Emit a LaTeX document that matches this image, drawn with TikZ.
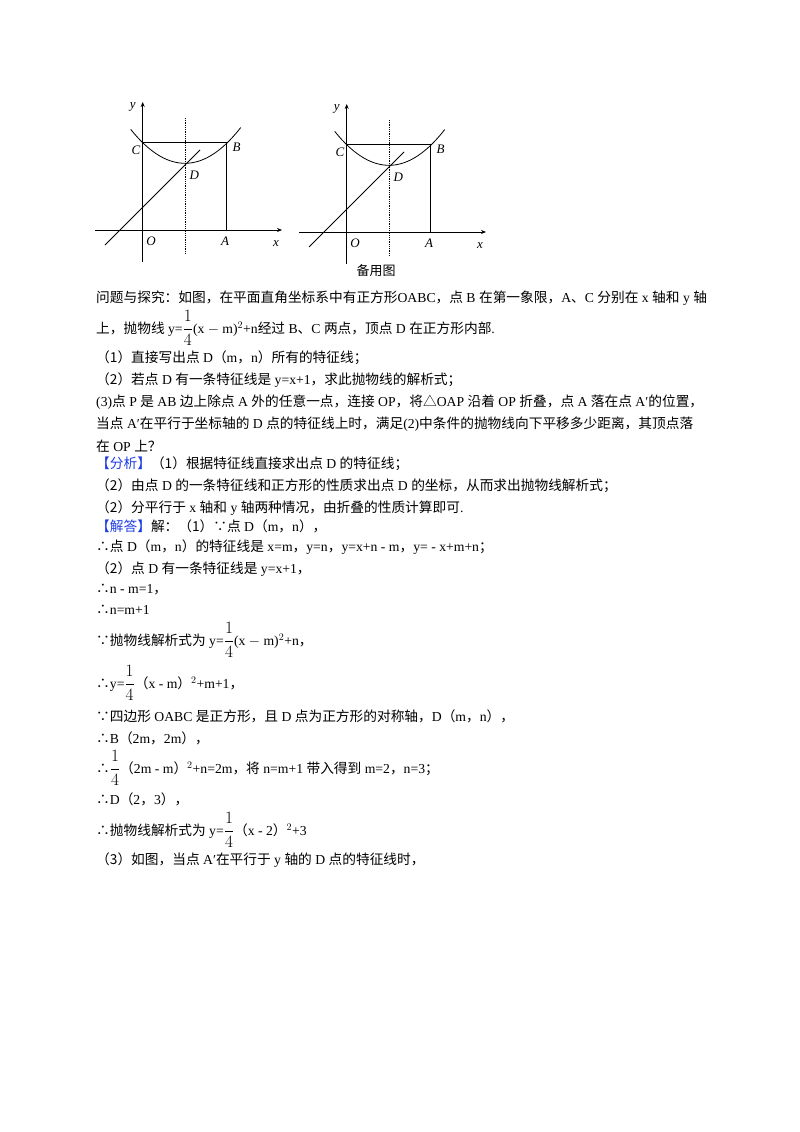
\documentclass[tikz,border=0pt]{standalone}
\usepackage{fontspec}
\usetikzlibrary{arrows.meta}
\setmainfont{Liberation Serif}
\newfontfamily\cjk{Noto Sans CJK SC}
\newcommand\Z[1]{{\cjk #1}}
\newcommand\fr{{\fontsize{17}{17}\selectfont$\displaystyle\frac{1}{4}$}}
\definecolor{ansblue}{RGB}{30,60,230}
\begin{document}
\begin{tikzpicture}[x=1pt,y=-1pt,
  ax/.style={line width=0.8pt,-{Stealth[length=5pt,width=4pt]}},
  ln/.style={line width=0.8pt},
  dl/.style={line width=0.8pt,densely dotted},
  lb/.style={font=\itshape\fontsize{13}{13}\selectfont,inner sep=0},
  tx/.style={anchor=west,inner sep=0,font=\fontsize{13.7}{16}\selectfont}]
\useasboundingbox (0,0) rectangle (800,1132);
\foreach \dx/\dy/\s in {0/0/a,204/2/b}{
\begin{scope}[shift={(\dx,\dy)}]
 \coordinate (O\s) at (142.7,230);
 \coordinate (A\s) at (226.7,230);
 \coordinate (B\s) at (226.7,142.7);
 \coordinate (C\s) at (142.7,142.7);
 \coordinate (D\s) at (185,163.3);
 \draw[ax] (95,230) -- (282,230);
 \draw[ax] (142.7,262) -- (142.7,102);
 \draw[ln] (C\s) -- (B\s) -- (A\s);
 \draw[dl] (185,118) -- (185,254);
 \draw[ln,domain=130.7:240.7,samples=50] plot (\x,{163.3-0.01152*(\x-185)*(\x-185)});
 \draw[ln] (105,245) -- (200,150);
 \node[lb] at (132.7,106.7) {y};
 \node[lb] at (136,150) {C};
 \node[lb] at (236.7,147.3) {B};
 \node[lb] at (194.3,175.7) {D};
 \node[lb] at (151,241.7) {O};
 \node[lb] at (225,241.7) {A};
 \node[lb] at (276,244) {x};
\end{scope}}
\node[inner sep=0,font=\cjk\fontsize{13}{13}\selectfont] (cap) at (376,271) {备用图};
\node[tx] (l1) at (96,298) {\Z{问题与探究：如图，在平面直角坐标系中有正方形}OABC\Z{，点} B \Z{在第一象限，}A\Z{、}C \Z{分别在} x \Z{轴和} y \Z{轴}};
\node[tx] (l2) at (96,328) {\Z{上，抛物线} y=\fr(x $-$ m)$^2$+n\Z{经过} B\Z{、}C \Z{两点，顶点} D \Z{在正方形内部}.};
\node[tx] (l3) at (96,358) {\Z{（1）直接写出点} D\Z{（}m\Z{，}n\Z{）所有的特征线；}};
\node[tx] (l4) at (96,380) {\Z{（2）若点} D \Z{有一条特征线是} y=x+1\Z{，求此抛物线的解析式；}};
\node[tx] (l5) at (96,402) {(3)\Z{点} P \Z{是} AB \Z{边上除点} A \Z{外的任意一点，连接} OP\Z{，将}\Z{△}OAP \Z{沿着} OP \Z{折叠，点} A \Z{落在点} A′\Z{的位置，}};
\node[tx] (l6) at (96,424) {\Z{当点} A′\Z{在平行于坐标轴的} D \Z{点的特征线上时，满足}(2)\Z{中条件的抛物线向下平移多少距离，其顶点落}};
\node[tx] (l7) at (96,446) {\Z{在} OP \Z{上？}};
\node[tx] (l8) at (96,464) {\textcolor{ansblue}{\Z{【分析】}}\Z{（1）根据特征线直接求出点} D \Z{的特征线；}};
\node[tx] (l9) at (96,486) {\Z{（2）由点} D \Z{的一条特征线和正方形的性质求出点} D \Z{的坐标，从而求出抛物线解析式；}};
\node[tx] (l10) at (96,508) {\Z{（2）分平行于} x \Z{轴和} y \Z{轴两种情况，由折叠的性质计算即可}.};
\node[tx] (l11) at (96,526) {\textcolor{ansblue}{\Z{【解答】}}\Z{解：（1）∵点} D\Z{（}m\Z{，}n\Z{），}};
\node[tx] (l12) at (96,547) {\Z{∴点} D\Z{（}m\Z{，}n\Z{）的特征线是} x=m\Z{，}y=n\Z{，}y=x+n - m\Z{，}y= - x+m+n\Z{；}};
\node[tx] (l13) at (96,569) {\Z{（2）点} D \Z{有一条特征线是} y=x+1\Z{，}};
\node[tx] (l14) at (96,590) {\Z{∴}n - m=1\Z{，}};
\node[tx] (l15) at (96,610) {\Z{∴}n=m+1};
\node[tx] (l16) at (96,640) {\Z{∵抛物线解析式为} y=\fr(x $-$ m)$^2$+n\Z{，}};
\node[tx] (l17) at (96,683) {\Z{∴}y=\fr\Z{（}x - m\Z{）}$^2$+m+1\Z{，}};
\node[tx] (l18) at (96,716) {\Z{∵四边形} OABC \Z{是正方形，且} D \Z{点为正方形的对称轴，}D\Z{（}m\Z{，}n\Z{），}};
\node[tx] (l19) at (96,738) {\Z{∴}B\Z{（}2m\Z{，}2m\Z{），}};
\node[tx] (l20) at (96,768) {\Z{∴}\fr\Z{（}2m - m\Z{）}$^2$+n=2m\Z{，将} n=m+1 \Z{带入得到} m=2\Z{，}n=3\Z{；}};
\node[tx] (l21) at (96,799) {\Z{∴}D\Z{（}2\Z{，}3\Z{），}};
\node[tx] (l22) at (96,830) {\Z{∴抛物线解析式为} y=\fr\Z{（}x - 2\Z{）}$^2$+3};
\node[tx] (l23) at (96,860) {\Z{（3）如图，当点} A′\Z{在平行于} y \Z{轴的} D \Z{点的特征线时，}};
\end{tikzpicture}
\end{document}
